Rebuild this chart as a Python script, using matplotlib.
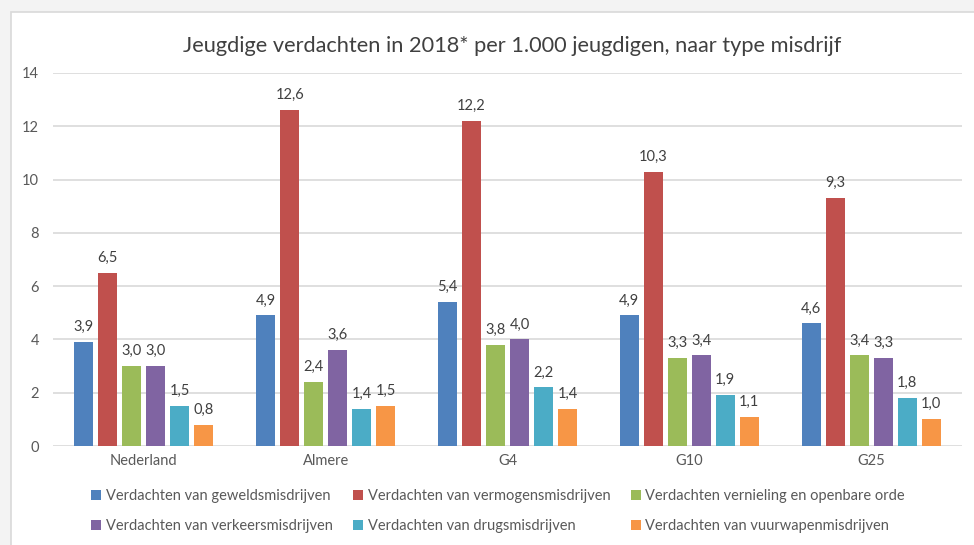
import numpy as np
import matplotlib.pyplot as plt
from matplotlib.patches import Rectangle

plt.rcParams['font.family'] = ['Lato', 'DejaVu Sans']

# Data
groups = ['Nederland', 'Almere', 'G4', 'G10', 'G25']
series = [
    'Verdachten van geweldsmisdrijven',
    'Verdachten van vermogensmisdrijven',
    'Verdachten vernieling en openbare orde',
    'Verdachten van verkeersmisdrijven',
    'Verdachten van drugsmisdrijven',
    'Verdachten van vuurwapenmisdrijven',
]
geweld = [3.9, 4.9, 5.4, 4.9, 4.6]
vermogen = [6.5, 12.6, 12.2, 10.3, 9.3]
vernieling = [3.0, 2.4, 3.8, 3.3, 3.4]
verkeer = [3.0, 3.6, 4.0, 3.4, 3.3]
drugs = [1.5, 1.4, 2.2, 1.9, 1.8]
vuurwapen = [0.8, 1.5, 1.4, 1.1, 1.0]
values = [geweld, vermogen, vernieling, verkeer, drugs, vuurwapen]
colors = ['#4f81bd', '#c0504d', '#9bbb59', '#8064a2', '#4bacc6', '#f79646']

fig = plt.figure(figsize=(9.74, 5.45), dpi=100)
fig.patch.set_facecolor('#f3f3f3')
# white chart area with thin border
fig.patches.append(Rectangle((11 / 974, -0.1), 1.2, 1 - 12 / 545 + 0.1,
                             transform=fig.transFigure, facecolor='white',
                             edgecolor='#d9d9d9', linewidth=1.2, zorder=-5))

ax = fig.add_axes([53 / 974, 1 - 446 / 545, 909 / 974, 373 / 545])
ax.set_facecolor('none')

x = np.arange(len(groups))
step = 0.132
width = 0.104
handles = []
for i, (name, vals, col) in enumerate(zip(series, values, colors)):
    pos = x + (i - 2.5) * step
    bars = ax.bar(pos, vals, width, color=col, label=name, zorder=3)
    handles.append(bars)
    for b, v in zip(bars, vals):
        ax.text(b.get_x() + b.get_width() / 2, v + 0.3, f'{v:.1f}'.replace('.', ','),
                ha='center', va='bottom', fontsize=10.5, color='#404040')

ax.set_xlim(-0.5, len(groups) - 0.5)
ax.set_ylim(0, 14)
ax.set_yticks(range(0, 15, 2))
ax.set_xticks(x)
ax.set_xticklabels(groups)
ax.tick_params(axis='both', length=0, labelsize=10.5, colors='#595959')
ax.tick_params(axis='y', pad=10)
ax.tick_params(axis='x', pad=6)
ax.grid(axis='y', color='#d9d9d9', linewidth=1.2, zorder=0)
for s in ax.spines.values():
    s.set_visible(False)

fig.text(512 / 974, 1 - 46 / 545, 'Jeugdige verdachten in 2018* per 1.000 jeugdigen, naar type misdrijf',
         ha='center', va='center', fontsize=15.7, color='#404040')

# legend filled row by row (matplotlib fills columns first)
order = [0, 3, 1, 4, 2, 5]
fig.legend([handles[k] for k in order], [series[k] for k in order],
           loc='center', bbox_to_anchor=(498 / 974, 1 - 511 / 545), ncol=3, frameon=False,
           fontsize=10.5, labelcolor='#595959', handlelength=0.7, handleheight=0.7,
           handletextpad=0.3, columnspacing=1.4, labelspacing=1.1)

fig.savefig('out.png', dpi=100, facecolor=fig.get_facecolor())
